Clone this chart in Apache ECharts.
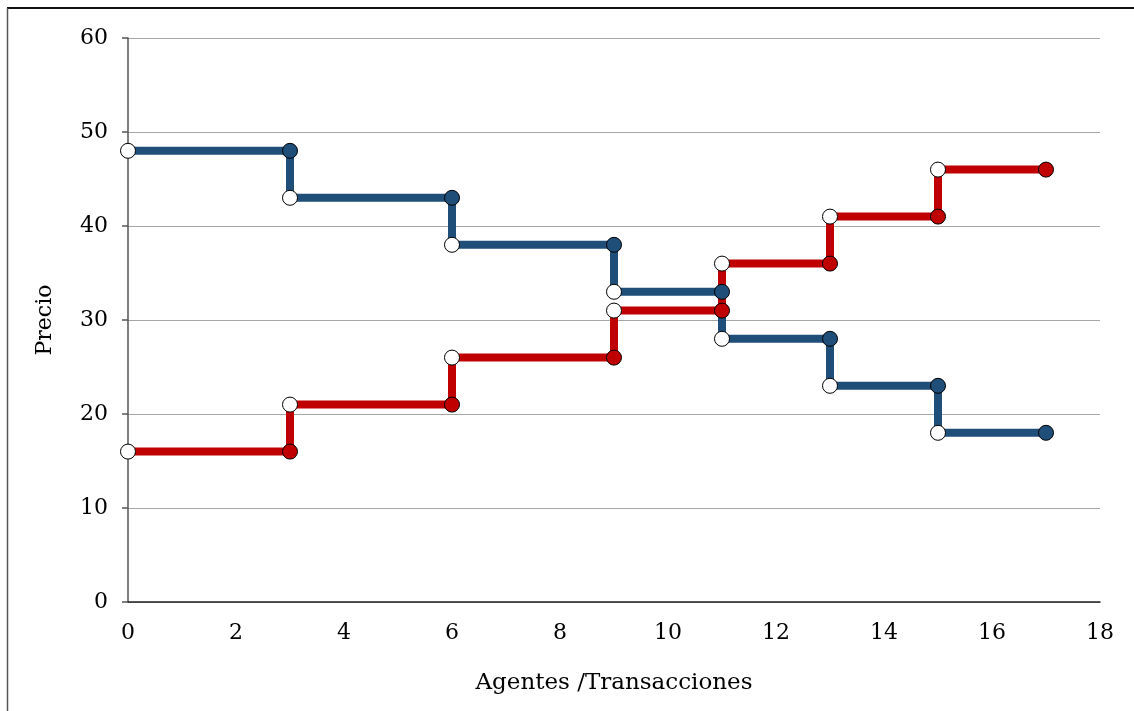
<!DOCTYPE html>
<html lang="es">
<head>
<meta charset="UTF-8">
<title>Precio</title>
<style>
  html, body { margin: 0; padding: 0; background: #fff; }
  #main { width: 1134px; height: 711px; }
</style>
</head>
<body>
<div id="main"></div>
<script src="https://cdn.jsdelivr.net/npm/echarts@6/dist/echarts.min.js"></script>
<script>
// demanda (azul) y oferta (rojo): cada tramo va de start a end con un precio
var blueStarts = [0, 3, 6, 9, 11, 13, 15];
var blueEnds = [3, 6, 9, 11, 13, 15, 17];
var bluePrices = [48, 43, 38, 33, 28, 23, 18];

var redStarts = [0, 3, 6, 9, 11, 13, 15];
var redEnds = [3, 6, 9, 11, 13, 15, 17];
var redPrices = [16, 21, 26, 31, 36, 41, 46];

var xTicks = [0, 2, 4, 6, 8, 10, 12, 14, 16, 18];
var yTicks = [0, 10, 20, 30, 40, 50, 60];

var BLUE = '#1f4e79';
var RED = '#c00000';
var FONT = 'DejaVu Serif';

function stepLine(starts, ends, prices) {
  var pts = [];
  for (var i = 0; i < prices.length; i++) {
    pts.push([starts[i], prices[i]]);
    pts.push([ends[i], prices[i]]);
  }
  return pts;
}
function openPts(starts, prices) {
  return starts.map(function (s, i) { return [s, prices[i]]; });
}

var chart = echarts.init(document.getElementById('main'));
var option = {
  backgroundColor: '#fff',
  animation: false,
  grid: { left: 128, right: 34, top: 38, bottom: 109, containLabel: false },
  xAxis: {
    type: 'value',
    min: xTicks[0], max: xTicks[xTicks.length - 1], interval: 2,
    name: 'Agentes /Transacciones',
    nameLocation: 'middle',
    nameGap: 70,
    nameTextStyle: { fontFamily: FONT, fontSize: 23, color: '#000' },
    axisLine: { lineStyle: { color: '#222', width: 1.5 } },
    axisTick: { show: false },
    splitLine: { show: false },
    axisLabel: { fontFamily: FONT, fontSize: 22, color: '#000', margin: 20 }
  },
  yAxis: {
    type: 'value',
    min: yTicks[0], max: yTicks[yTicks.length - 1], interval: 10,
    name: 'Precio',
    nameLocation: 'middle',
    nameGap: 72,
    nameTextStyle: { fontFamily: FONT, fontSize: 22, color: '#000' },
    axisLine: { show: true, lineStyle: { color: '#555', width: 1.5 } },
    axisTick: { show: true, length: 6, lineStyle: { color: '#555', width: 1.5 } },
    splitLine: { lineStyle: { color: '#a6a6a6', width: 1.2 } },
    axisLabel: { fontFamily: FONT, fontSize: 22, color: '#000', margin: 20 }
  },
  graphic: [
    { type: 'line', shape: { x1: 7, y1: 8, x2: 1134, y2: 8 }, style: { stroke: '#111', lineWidth: 2 } },
    { type: 'line', shape: { x1: 7.5, y1: 8, x2: 7.5, y2: 711 }, style: { stroke: '#555', lineWidth: 1.5 } }
  ],
  series: [
    {
      type: 'line', z: 2, data: stepLine(blueStarts, blueEnds, bluePrices),
      showSymbol: false, lineStyle: { color: BLUE, width: 8, cap: 'butt', join: 'miter' }
    },
    {
      type: 'line', z: 3, data: stepLine(redStarts, redEnds, redPrices),
      showSymbol: false, lineStyle: { color: RED, width: 8, cap: 'butt', join: 'miter' }
    },
    {
      type: 'scatter', z: 4, data: openPts(blueEnds, bluePrices),
      symbolSize: 15, itemStyle: { color: BLUE, borderColor: '#000', borderWidth: 1, opacity: 1 }
    },
    {
      type: 'scatter', z: 4, data: openPts(blueStarts, bluePrices),
      symbolSize: 15, itemStyle: { color: '#fff', borderColor: '#000', borderWidth: 1, opacity: 1 }
    },
    {
      type: 'scatter', z: 5, data: openPts(redEnds, redPrices),
      symbolSize: 15, itemStyle: { color: RED, borderColor: '#000', borderWidth: 1, opacity: 1 }
    },
    {
      type: 'scatter', z: 5, data: openPts(redStarts, redPrices),
      symbolSize: 15, itemStyle: { color: '#fff', borderColor: '#000', borderWidth: 1, opacity: 1 }
    }
  ]
};
chart.setOption(option);
</script>
</body>
</html>
